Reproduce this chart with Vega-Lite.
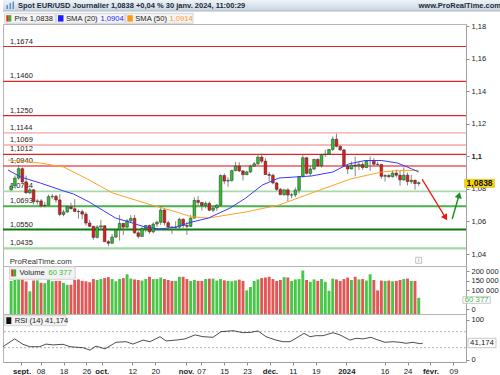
{
  "$schema": "https://vega.github.io/schema/vega-lite/v6.json",
  "padding": 0,
  "background": "white",
  "spacing": 0,
  "bounds": "flush",
  "config": {
    "font": "Liberation Sans",
    "view": {"stroke": "#b4b4b4"},
    "axis": {"labelFont": "Liberation Sans", "labelFontSize": 7.5, "labelColor": "#222222", "tickColor": "#8a8a8a", "domainColor": "#a0a0a0", "tickSize": 3, "labelPadding": 2, "grid": false, "labelOverlap": false, "labelBound": false}
  },
  "datasets": {
    "ohlc": [
      {"i":-4,"o":1.0795,"h":1.0834,"l":1.0787,"c":1.0818,"v":150000},
      {"i":-3,"o":1.0818,"h":1.0882,"l":1.0807,"c":1.0866,"v":155000},
      {"i":-2,"o":1.0866,"h":1.0945,"l":1.0855,"c":1.0924,"v":158000},
      {"i":-1,"o":1.0924,"h":1.0932,"l":1.0834,"c":1.0843,"v":158000},
      {"i":0,"o":1.0843,"h":1.0882,"l":1.0771,"c":1.0776,"v":147000},
      {"i":1,"o":1.0776,"h":1.0808,"l":1.0768,"c":1.0794,"v":95000},
      {"i":2,"o":1.0794,"h":1.0799,"l":1.0705,"c":1.0722,"v":152000},
      {"i":3,"o":1.0722,"h":1.0737,"l":1.0703,"c":1.0726,"v":153000},
      {"i":4,"o":1.0726,"h":1.0737,"l":1.0686,"c":1.0697,"v":140000},
      {"i":5,"o":1.0697,"h":1.0719,"l":1.0687,"c":1.0700,"v":138000},
      {"i":6,"o":1.0700,"h":1.0765,"l":1.0699,"c":1.0752,"v":158000},
      {"i":7,"o":1.0752,"h":1.0768,"l":1.0739,"c":1.0754,"v":148000},
      {"i":8,"o":1.0754,"h":1.0764,"l":1.0716,"c":1.0732,"v":150000},
      {"i":9,"o":1.0732,"h":1.0767,"l":1.0632,"c":1.0643,"v":150000},
      {"i":10,"o":1.0643,"h":1.0672,"l":1.0632,"c":1.0658,"v":140000},
      {"i":11,"o":1.0658,"h":1.0699,"l":1.0653,"c":1.0690,"v":130000},
      {"i":12,"o":1.0690,"h":1.0715,"l":1.0675,"c":1.0678,"v":130000},
      {"i":13,"o":1.0678,"h":1.0737,"l":1.0660,"c":1.0661,"v":155000},
      {"i":14,"o":1.0661,"h":1.0673,"l":1.0617,"c":1.0660,"v":158000},
      {"i":15,"o":1.0660,"h":1.0673,"l":1.0614,"c":1.0645,"v":150000},
      {"i":16,"o":1.0645,"h":1.0658,"l":1.0573,"c":1.0590,"v":148000},
      {"i":17,"o":1.0590,"h":1.0608,"l":1.0565,"c":1.0570,"v":143000},
      {"i":18,"o":1.0570,"h":1.0573,"l":1.0488,"c":1.0502,"v":160000},
      {"i":19,"o":1.0502,"h":1.0578,"l":1.0496,"c":1.0566,"v":155000},
      {"i":20,"o":1.0566,"h":1.0609,"l":1.0546,"c":1.0573,"v":160000},
      {"i":21,"o":1.0573,"h":1.0577,"l":1.0475,"c":1.0476,"v":165000},
      {"i":22,"o":1.0476,"h":1.0486,"l":1.0448,"c":1.0466,"v":170000},
      {"i":23,"o":1.0466,"h":1.0523,"l":1.0463,"c":1.0504,"v":160000},
      {"i":24,"o":1.0504,"h":1.0553,"l":1.0499,"c":1.0549,"v":148000},
      {"i":25,"o":1.0549,"h":1.0640,"l":1.0482,"c":1.0588,"v":160000},
      {"i":26,"o":1.0588,"h":1.0591,"l":1.0516,"c":1.0565,"v":165000},
      {"i":27,"o":1.0565,"h":1.0615,"l":1.0557,"c":1.0604,"v":185000},
      {"i":28,"o":1.0604,"h":1.0639,"l":1.0591,"c":1.0619,"v":163000},
      {"i":29,"o":1.0619,"h":1.0640,"l":1.0525,"c":1.0530,"v":158000},
      {"i":30,"o":1.0530,"h":1.0540,"l":1.0495,"c":1.0508,"v":155000},
      {"i":31,"o":1.0508,"h":1.0565,"l":1.0505,"c":1.0557,"v":152000},
      {"i":32,"o":1.0557,"h":1.0578,"l":1.0533,"c":1.0575,"v":160000},
      {"i":33,"o":1.0575,"h":1.0580,"l":1.0524,"c":1.0536,"v":172000},
      {"i":34,"o":1.0536,"h":1.0594,"l":1.0527,"c":1.0584,"v":160000},
      {"i":35,"o":1.0584,"h":1.0605,"l":1.0565,"c":1.0595,"v":160000},
      {"i":36,"o":1.0595,"h":1.0695,"l":1.0578,"c":1.0670,"v":168000},
      {"i":37,"o":1.0670,"h":1.0677,"l":1.0576,"c":1.0592,"v":160000},
      {"i":38,"o":1.0592,"h":1.0605,"l":1.0554,"c":1.0566,"v":155000},
      {"i":39,"o":1.0566,"h":1.0570,"l":1.0523,"c":1.0563,"v":150000},
      {"i":40,"o":1.0563,"h":1.0601,"l":1.0549,"c":1.0565,"v":150000},
      {"i":41,"o":1.0565,"h":1.0623,"l":1.0555,"c":1.0613,"v":172000},
      {"i":42,"o":1.0613,"h":1.0621,"l":1.0560,"c":1.0575,"v":172000},
      {"i":43,"o":1.0575,"h":1.0598,"l":1.0517,"c":1.0570,"v":160000},
      {"i":44,"o":1.0570,"h":1.0640,"l":1.0565,"c":1.0620,"v":150000},
      {"i":45,"o":1.0620,"h":1.0748,"l":1.0618,"c":1.0729,"v":155000},
      {"i":46,"o":1.0729,"h":1.0756,"l":1.0697,"c":1.0717,"v":150000},
      {"i":47,"o":1.0717,"h":1.0718,"l":1.0667,"c":1.0698,"v":150000},
      {"i":48,"o":1.0698,"h":1.0724,"l":1.0680,"c":1.0711,"v":160000},
      {"i":49,"o":1.0711,"h":1.0722,"l":1.0663,"c":1.0669,"v":162000},
      {"i":50,"o":1.0669,"h":1.0697,"l":1.0656,"c":1.0683,"v":162000},
      {"i":51,"o":1.0683,"h":1.0706,"l":1.0665,"c":1.0700,"v":152000},
      {"i":52,"o":1.0700,"h":1.0888,"l":1.0694,"c":1.0882,"v":160000},
      {"i":53,"o":1.0882,"h":1.0895,"l":1.0828,"c":1.0848,"v":153000},
      {"i":54,"o":1.0848,"h":1.0871,"l":1.0813,"c":1.0852,"v":150000},
      {"i":55,"o":1.0852,"h":1.0917,"l":1.0844,"c":1.0912,"v":148000},
      {"i":56,"o":1.0912,"h":1.0965,"l":1.0908,"c":1.0940,"v":152000},
      {"i":57,"o":1.0940,"h":1.0964,"l":1.0903,"c":1.0910,"v":157000},
      {"i":58,"o":1.0910,"h":1.0916,"l":1.0852,"c":1.0887,"v":150000},
      {"i":59,"o":1.0887,"h":1.0912,"l":1.0884,"c":1.0904,"v":100000},
      {"i":60,"o":1.0904,"h":1.0948,"l":1.0898,"c":1.0940,"v":118000},
      {"i":61,"o":1.0940,"h":1.0965,"l":1.0934,"c":1.0954,"v":150000},
      {"i":62,"o":1.0954,"h":1.1009,"l":1.0944,"c":1.0995,"v":158000},
      {"i":63,"o":1.0995,"h":1.1017,"l":1.0958,"c":1.0970,"v":165000},
      {"i":64,"o":1.0970,"h":1.0989,"l":1.0885,"c":1.0888,"v":168000},
      {"i":65,"o":1.0888,"h":1.0904,"l":1.0846,"c":1.0883,"v":172000},
      {"i":66,"o":1.0883,"h":1.0894,"l":1.0828,"c":1.0836,"v":160000},
      {"i":67,"o":1.0836,"h":1.0843,"l":1.0787,"c":1.0797,"v":150000},
      {"i":68,"o":1.0797,"h":1.0806,"l":1.0764,"c":1.0764,"v":155000},
      {"i":69,"o":1.0764,"h":1.0798,"l":1.0758,"c":1.0794,"v":170000},
      {"i":70,"o":1.0794,"h":1.0804,"l":1.0723,"c":1.0762,"v":168000},
      {"i":71,"o":1.0762,"h":1.0775,"l":1.0742,"c":1.0763,"v":150000},
      {"i":72,"o":1.0763,"h":1.0808,"l":1.0749,"c":1.0792,"v":158000},
      {"i":73,"o":1.0792,"h":1.0880,"l":1.0772,"c":1.0876,"v":160000},
      {"i":74,"o":1.0876,"h":1.1009,"l":1.0869,"c":1.0991,"v":205000},
      {"i":75,"o":1.0991,"h":1.0996,"l":1.0888,"c":1.0895,"v":155000},
      {"i":76,"o":1.0895,"h":1.0940,"l":1.0879,"c":1.0922,"v":145000},
      {"i":77,"o":1.0922,"h":1.0984,"l":1.0915,"c":1.0981,"v":158000},
      {"i":78,"o":1.0981,"h":1.0988,"l":1.0937,"c":1.0942,"v":150000},
      {"i":79,"o":1.0942,"h":1.1013,"l":1.0930,"c":1.1011,"v":160000},
      {"i":80,"o":1.1011,"h":1.1040,"l":1.0996,"c":1.1013,"v":145000},
      {"i":81,"o":1.1013,"h":1.1045,"l":1.1008,"c":1.1042,"v":98000},
      {"i":82,"o":1.1042,"h":1.1122,"l":1.1032,"c":1.1105,"v":162000},
      {"i":83,"o":1.1105,"h":1.1139,"l":1.1055,"c":1.1061,"v":158000},
      {"i":84,"o":1.1061,"h":1.1067,"l":1.1035,"c":1.1039,"v":150000},
      {"i":85,"o":1.1039,"h":1.1046,"l":1.0940,"c":1.0941,"v":160000},
      {"i":86,"o":1.0941,"h":1.0951,"l":1.0892,"c":1.0922,"v":168000},
      {"i":87,"o":1.0922,"h":1.0968,"l":1.0920,"c":1.0946,"v":155000},
      {"i":88,"o":1.0946,"h":1.0998,"l":1.0877,"c":1.0940,"v":172000},
      {"i":89,"o":1.0940,"h":1.0969,"l":1.0915,"c":1.0950,"v":158000},
      {"i":90,"o":1.0950,"h":1.0963,"l":1.0917,"c":1.0931,"v":160000},
      {"i":91,"o":1.0931,"h":1.0976,"l":1.0927,"c":1.0973,"v":152000},
      {"i":92,"o":1.0973,"h":1.0999,"l":1.0911,"c":1.0974,"v":185000},
      {"i":93,"o":1.0974,"h":1.0988,"l":1.0942,"c":1.0951,"v":155000},
      {"i":94,"o":1.0951,"h":1.0966,"l":1.0942,"c":1.0950,"v":100000},
      {"i":95,"o":1.0950,"h":1.0952,"l":1.0862,"c":1.0877,"v":152000},
      {"i":96,"o":1.0877,"h":1.0891,"l":1.0844,"c":1.0882,"v":150000},
      {"i":97,"o":1.0882,"h":1.0892,"l":1.0866,"c":1.0875,"v":152000},
      {"i":98,"o":1.0875,"h":1.0914,"l":1.0869,"c":1.0897,"v":148000},
      {"i":99,"o":1.0897,"h":1.0918,"l":1.0870,"c":1.0884,"v":150000},
      {"i":100,"o":1.0884,"h":1.0913,"l":1.0820,"c":1.0855,"v":155000},
      {"i":101,"o":1.0855,"h":1.0932,"l":1.0850,"c":1.0884,"v":160000},
      {"i":102,"o":1.0884,"h":1.0900,"l":1.0821,"c":1.0845,"v":162000},
      {"i":103,"o":1.0845,"h":1.0886,"l":1.0832,"c":1.0853,"v":150000},
      {"i":104,"o":1.0853,"h":1.0857,"l":1.0795,"c":1.0833,"v":150000},
      {"i":105,"o":1.0833,"h":1.0846,"l":1.0818,"c":1.0838,"v":60377}
    ],
    "sma20": [
      {"i":-4.84,"s":1.09158},{"i":-1.44,"s":1.08728},{"i":3.79,"s":1.0836},{"i":10.07,"s":1.07869},
      {"i":12.69,"s":1.07684},{"i":16.88,"s":1.07193},{"i":19.49,"s":1.06825},{"i":23.94,"s":1.06211},
      {"i":28.39,"s":1.05904},{"i":31.79,"s":1.05658},{"i":35.71,"s":1.05535},{"i":40.16,"s":1.05658},
      {"i":44.35,"s":1.05965},{"i":48.8,"s":1.06211},{"i":54.55,"s":1.06825},{"i":58.74,"s":1.07439},
      {"i":63.19,"s":1.08237},{"i":67.64,"s":1.08667},{"i":71.82,"s":1.08728},{"i":76.27,"s":1.0879},
      {"i":82.03,"s":1.09035},{"i":86.21,"s":1.09526},{"i":90.66,"s":1.09741},{"i":95.11,"s":1.09741},
      {"i":99.29,"s":1.09588},{"i":101.91,"s":1.09342},{"i":105,"s":1.0904}
    ],
    "sma50": [
      {"i":-4.84,"s":1.09772},{"i":3.79,"s":1.09588},{"i":10.07,"s":1.09342},{"i":16.88,"s":1.08544},
      {"i":23.15,"s":1.07746},{"i":31.79,"s":1.07132},{"i":40.16,"s":1.06579},{"i":44.35,"s":1.06272},
      {"i":48.8,"s":1.06211},{"i":58.74,"s":1.06579},{"i":67.64,"s":1.07009},{"i":77.84,"s":1.07868},
      {"i":86.74,"s":1.08605},{"i":95.11,"s":1.09035},{"i":99.82,"s":1.09127},{"i":105,"s":1.0914}
    ],
    "rsi": [
      {"i":-4.84,"r":32.5},{"i":-1.78,"r":52},{"i":0.39,"r":38.5},{"i":2.15,"r":32.5},{"i":4.76,"r":32.5},
      {"i":6.41,"r":39},{"i":8.24,"r":37},{"i":10.86,"r":38.5},{"i":12.69,"r":32.5},{"i":16.09,"r":30},
      {"i":17.92,"r":24},{"i":19.49,"r":34},{"i":21.85,"r":27},{"i":24.72,"r":43.5},{"i":27.34,"r":45},
      {"i":29.17,"r":39},{"i":31.79,"r":49},{"i":33.62,"r":45},{"i":36.24,"r":57.5},{"i":37.81,"r":47},
      {"i":40.42,"r":49},{"i":42.78,"r":52},{"i":45.4,"r":62},{"i":47.49,"r":57.5},{"i":50.1,"r":56},
      {"i":52.2,"r":70},{"i":55.33,"r":72.5},{"i":57.95,"r":67.5},{"i":60.04,"r":68.5},{"i":61.87,"r":72},
      {"i":63.97,"r":57.5},{"i":66.59,"r":49},{"i":68.42,"r":45},{"i":70.25,"r":45},{"i":71.82,"r":53.5},
      {"i":73.91,"r":66},{"i":75.48,"r":57.5},{"i":77.05,"r":60},{"i":78.88,"r":60},{"i":81.5,"r":67.5},
      {"i":83.33,"r":62},{"i":85.94,"r":49},{"i":87.51,"r":53.5},{"i":89.35,"r":52},{"i":91.44,"r":56},
      {"i":92.75,"r":51},{"i":95.11,"r":43.5},{"i":97.2,"r":45},{"i":99.03,"r":43.5},{"i":100.6,"r":41},
      {"i":102.43,"r":43.5},{"i":104.26,"r":40},{"i":105,"r":41.174}
    ],
    "levels": [
      {"level":1.1674,"label":"1,1674","kind":"rouge"},
      {"level":1.1460,"label":"1,1460","kind":"rouge"},
      {"level":1.1250,"label":"1,1250","kind":"rouge"},
      {"level":1.1144,"label":"1,1144","kind":"rose"},
      {"level":1.1069,"label":"1,1069","kind":"rose"},
      {"level":1.1012,"label":"1,1012","kind":"rouge"},
      {"level":1.0940,"label":"1,0940","kind":"rouge2"},
      {"level":1.0784,"label":"1,0784","kind":"vertclair"},
      {"level":1.0693,"label":"1,0693","kind":"vert"},
      {"level":1.0550,"label":"1,0550","kind":"vertfonce"},
      {"level":1.0435,"label":"1,0435","kind":"vertclair2"}
    ]
  },
  "vconcat": [
    {
      "width": 500,
      "height": 24,
      "view": {"stroke": null},
      "data": {"values": [{}]},
      "layer": [
        {"mark": {"type": "rect", "color": {"gradient": "linear", "x1": 0, "y1": 0, "x2": 0, "y2": 1, "stops": [{"offset": 0, "color": "#eef3f8"}, {"offset": 1, "color": "#c8d5e0"}]}},
         "encoding": {"x": {"datum": 0, "type": "quantitative", "scale": {"domain": [0, 500], "nice": false, "zero": false}, "axis": null}, "x2": {"datum": 500},
                      "y": {"datum": 0, "type": "quantitative", "scale": {"domain": [0, 24], "reverse": true, "nice": false, "zero": false}, "axis": null}, "y2": {"datum": 11}}},
        {"mark": {"type": "rule", "color": "#a9b7c4", "strokeWidth": 1},
         "encoding": {"x": {"datum": 0, "type": "quantitative", "axis": null}, "x2": {"datum": 500}, "y": {"datum": 11, "type": "quantitative", "axis": null}}},
        {"mark": {"type": "rect", "color": "#5b8fd0"},
         "encoding": {"x": {"datum": 3.5, "type": "quantitative", "axis": null}, "x2": {"datum": 5}, "y": {"datum": 5, "type": "quantitative", "axis": null}, "y2": {"datum": 9}}},
        {"mark": {"type": "rect", "color": "#5b8fd0"},
         "encoding": {"x": {"datum": 6.5, "type": "quantitative", "axis": null}, "x2": {"datum": 8}, "y": {"datum": 3, "type": "quantitative", "axis": null}, "y2": {"datum": 9}}},
        {"mark": {"type": "rect", "color": "#5b8fd0"},
         "encoding": {"x": {"datum": 9.5, "type": "quantitative", "axis": null}, "x2": {"datum": 11}, "y": {"datum": 1.5, "type": "quantitative", "axis": null}, "y2": {"datum": 9}}},
        {"mark": {"type": "text", "align": "left", "baseline": "middle", "fontWeight": "bold", "fontSize": 7.5, "color": "#1c2a38"},
         "encoding": {"x": {"datum": 15, "type": "quantitative", "axis": null}, "y": {"datum": 5.8, "type": "quantitative", "axis": null}, "text": {"value": "Spot EUR/USD Journalier 1,0838 +0,04 % 30 janv. 2024, 11:00:29"}}},
        {"mark": {"type": "text", "align": "right", "baseline": "middle", "fontWeight": "bold", "fontSize": 7.5, "color": "#1c2a38"},
         "encoding": {"x": {"datum": 498, "type": "quantitative", "axis": null}, "y": {"datum": 5.8, "type": "quantitative", "axis": null}, "text": {"value": "www.ProRealTime.com"}}},
        {"mark": {"type": "rect", "fill": "#f4f4f4", "stroke": "#c9c9c9", "strokeWidth": 0.8},
         "encoding": {"x": {"datum": 1.7, "type": "quantitative", "axis": null}, "x2": {"datum": 52.3}, "y": {"datum": 13.3, "type": "quantitative", "axis": null}, "y2": {"datum": 23.3}}},
        {"mark": {"type": "rect", "fill": "#f4f4f4", "stroke": "#c9c9c9", "strokeWidth": 0.8},
         "encoding": {"x": {"datum": 53.3, "type": "quantitative", "axis": null}, "x2": {"datum": 121.7}, "y": {"datum": 13.3, "type": "quantitative", "axis": null}, "y2": {"datum": 23.3}}},
        {"mark": {"type": "rect", "fill": "#f4f4f4", "stroke": "#c9c9c9", "strokeWidth": 0.8},
         "encoding": {"x": {"datum": 122.7, "type": "quantitative", "axis": null}, "x2": {"datum": 190}, "y": {"datum": 13.3, "type": "quantitative", "axis": null}, "y2": {"datum": 23.3}}},
        {"mark": {"type": "rect", "color": "#e0301e"},
         "encoding": {"x": {"datum": 3.3, "type": "quantitative", "axis": null}, "x2": {"datum": 5.8}, "y": {"datum": 15.2, "type": "quantitative", "axis": null}, "y2": {"datum": 21.6}}},
        {"mark": {"type": "rect", "color": "#2db82d"},
         "encoding": {"x": {"datum": 5.8, "type": "quantitative", "axis": null}, "x2": {"datum": 8.3}, "y": {"datum": 15.2, "type": "quantitative", "axis": null}, "y2": {"datum": 21.6}}},
        {"mark": {"type": "rect", "color": "#1f1fff"},
         "encoding": {"x": {"datum": 55, "type": "quantitative", "axis": null}, "x2": {"datum": 60.5}, "y": {"datum": 15.2, "type": "quantitative", "axis": null}, "y2": {"datum": 21.6}}},
        {"mark": {"type": "rect", "color": "#ff9a1a"},
         "encoding": {"x": {"datum": 124.3, "type": "quantitative", "axis": null}, "x2": {"datum": 129.8}, "y": {"datum": 15.2, "type": "quantitative", "axis": null}, "y2": {"datum": 21.6}}},
        {"mark": {"type": "text", "align": "left", "baseline": "middle", "fontSize": 7.6, "color": "#222222"},
         "encoding": {"x": {"datum": 11.5, "type": "quantitative", "axis": null}, "y": {"datum": 18.5, "type": "quantitative", "axis": null}, "text": {"value": "Prix 1,0838"}}},
        {"mark": {"type": "text", "align": "left", "baseline": "middle", "fontSize": 7.6, "color": "#222222"},
         "encoding": {"x": {"datum": 63, "type": "quantitative", "axis": null}, "y": {"datum": 18.5, "type": "quantitative", "axis": null}, "text": {"value": "SMA (20)"}}},
        {"mark": {"type": "text", "align": "left", "baseline": "middle", "fontSize": 7.6, "color": "#1f1fff"},
         "encoding": {"x": {"datum": 97.5, "type": "quantitative", "axis": null}, "y": {"datum": 18.5, "type": "quantitative", "axis": null}, "text": {"value": "1,0904"}}},
        {"mark": {"type": "text", "align": "left", "baseline": "middle", "fontSize": 7.6, "color": "#222222"},
         "encoding": {"x": {"datum": 132.3, "type": "quantitative", "axis": null}, "y": {"datum": 18.5, "type": "quantitative", "axis": null}, "text": {"value": "SMA (50)"}}},
        {"mark": {"type": "text", "align": "left", "baseline": "middle", "fontSize": 7.6, "color": "#ff9a1a"},
         "encoding": {"x": {"datum": 166.5, "type": "quantitative", "axis": null}, "y": {"datum": 18.5, "type": "quantitative", "axis": null}, "text": {"value": "1,0914"}}}
      ]
    },
    {
      "width": 463,
      "height": 242,
      "resolve": {"axis": {"x": "independent", "y": "independent"}},
      "layer": [
        {"data": {"name": "levels"},
         "mark": {"type": "rule"},
         "encoding": {
           "y": {"field": "level", "type": "quantitative", "scale": {"domain": [1.03264, 1.18123], "nice": false, "zero": false},
                 "axis": {"orient": "right", "title": null, "values": [1.04, 1.06, 1.08, 1.1, 1.12, 1.14, 1.16, 1.18], "labelOverlap": false,
                          "labelExpr": "replace(format(datum.value, '.2~f'), '.', ',')",
                          "labelFontWeight": {"condition": {"test": "abs(datum.value - 1.1) < 0.0001", "value": "bold"}, "value": "normal"}}},
           "color": {"field": "kind", "type": "nominal", "legend": null,
                     "scale": {"domain": ["rouge", "rose", "rouge2", "vertclair", "vert", "vertfonce", "vertclair2"],
                               "range": ["#e02424", "#f3a4a4", "#e85a5a", "#a9dba9", "#4dae4d", "#0b7d0b", "#a3d7a3"]}},
           "strokeWidth": {"field": "kind", "type": "nominal", "legend": null,
                           "scale": {"domain": ["rouge", "rose", "rouge2", "vertclair", "vert", "vertfonce", "vertclair2"],
                                     "range": [1.2, 2.2, 1.3, 2.6, 1.2, 2.2, 1.8]}}
         }},
        {"data": {"name": "levels"},
         "mark": {"type": "text", "align": "left", "baseline": "bottom", "dy": -1, "fontSize": 7.5, "color": "#222222"},
         "encoding": {
           "x": {"datum": -4.32, "type": "quantitative", "scale": {"domain": [-4.84, 116.3], "nice": false, "zero": false}, "axis": null},
           "y": {"field": "level", "type": "quantitative", "axis": null},
           "text": {"field": "label"}
         }},
        {"data": {"name": "ohlc"},
         "mark": {"type": "rule", "color": "#6a6a6a", "strokeWidth": 0.8},
         "encoding": {
           "x": {"field": "i", "type": "quantitative", "scale": {"domain": [-4.84, 116.3], "nice": false, "zero": false}, "axis": null},
           "y": {"field": "l", "type": "quantitative", "axis": null},
           "y2": {"field": "h"}
         }},
        {"data": {"name": "ohlc"},
         "mark": {"type": "bar", "width": 2.7, "stroke": "#2a2a2a", "strokeWidth": 0.5},
         "encoding": {
           "x": {"field": "i", "type": "quantitative", "axis": null},
           "y": {"field": "o", "type": "quantitative", "axis": null},
           "y2": {"field": "c"},
           "color": {"condition": {"test": "datum.c >= datum.o", "value": "#2ec22e"}, "value": "#e21b1b"}
         }},
        {"data": {"name": "sma50"},
         "mark": {"type": "line", "color": "#ffa126", "strokeWidth": 1},
         "encoding": {
           "x": {"field": "i", "type": "quantitative", "axis": null},
           "y": {"field": "s", "type": "quantitative", "axis": null}
         }},
        {"data": {"name": "sma20"},
         "mark": {"type": "line", "color": "#3a3aff", "strokeWidth": 1},
         "encoding": {
           "x": {"field": "i", "type": "quantitative", "axis": null},
           "y": {"field": "s", "type": "quantitative", "axis": null}
         }},
        {"data": {"values": [{}]},
         "mark": {"type": "rule", "color": "#e8170f", "strokeWidth": 1.4},
         "encoding": {
           "x": {"datum": 105.91, "type": "quantitative", "axis": null}, "x2": {"datum": 111.96},
           "y": {"datum": 1.0859, "type": "quantitative", "axis": null}, "y2": {"datum": 1.06303}
         }},
        {"data": {"values": [{}]},
         "mark": {"type": "point", "shape": "triangle-up", "angle": 148, "size": 50, "filled": true, "opacity": 1, "color": "#e8170f"},
         "encoding": {
           "x": {"datum": 112.17, "type": "quantitative", "axis": null},
           "y": {"datum": 1.06229, "type": "quantitative", "axis": null}
         }},
        {"data": {"values": [{}]},
         "mark": {"type": "rule", "color": "#1a8f1a", "strokeWidth": 1.4},
         "encoding": {
           "x": {"datum": 113.95, "type": "quantitative", "axis": null}, "x2": {"datum": 115.67},
           "y": {"datum": 1.06149, "type": "quantitative", "axis": null}, "y2": {"datum": 1.07531}
         }},
        {"data": {"values": [{}]},
         "mark": {"type": "point", "shape": "triangle-up", "angle": 16, "size": 50, "filled": true, "opacity": 1, "color": "#1a8f1a"},
         "encoding": {
           "x": {"datum": 115.78, "type": "quantitative", "axis": null},
           "y": {"datum": 1.07617, "type": "quantitative", "axis": null}
         }},
        {"data": {"values": [{}]},
         "mark": {"type": "rect", "color": "#ffd700", "stroke": "#c8a800", "strokeWidth": 0.5},
         "encoding": {
           "x": {"datum": 117.27, "type": "quantitative", "axis": null}, "x2": {"datum": 125.27},
           "y": {"datum": 1.08587, "type": "quantitative", "axis": null}, "y2": {"datum": 1.08096}
         }},
        {"data": {"values": [{}]},
         "mark": {"type": "text", "align": "center", "baseline": "middle", "fontWeight": "bold", "fontSize": 8.5, "color": "#111111"},
         "encoding": {
           "x": {"datum": 121.27, "type": "quantitative", "axis": null},
           "y": {"datum": 1.08341, "type": "quantitative", "axis": null},
           "text": {"value": "1,0838"}
         }},
        {"data": {"values": [{}]},
         "mark": {"type": "text", "align": "left", "baseline": "middle", "fontSize": 7.8, "color": "#333333"},
         "encoding": {
           "x": {"datum": -4.4, "type": "quantitative", "axis": null},
           "y": {"datum": 1.03528, "type": "quantitative", "axis": null},
           "text": {"value": "ProRealTime.com"}
         }},
        {"data": {"values": [{}]},
         "mark": {"type": "rect", "fill": "#ffffff", "stroke": "#a8a8a8", "strokeWidth": 0.7},
         "encoding": {
           "x": {"datum": 104.19, "type": "quantitative", "axis": null}, "x2": {"datum": 105.76},
           "y": {"datum": 1.03798, "type": "quantitative", "axis": null}, "y2": {"datum": 1.0343}
         }},
        {"data": {"values": [{}]},
         "mark": {"type": "text", "align": "center", "baseline": "middle", "fontSize": 5.5, "color": "#777777"},
         "encoding": {
           "x": {"datum": 104.97, "type": "quantitative", "axis": null},
           "y": {"datum": 1.03614, "type": "quantitative", "axis": null},
           "text": {"value": "i"}
         }}
      ]
    },
    {
      "width": 463,
      "height": 48,
      "resolve": {"axis": {"x": "independent", "y": "independent"}},
      "layer": [
        {"data": {"name": "ohlc"},
         "mark": {"type": "bar", "width": 2.9},
         "encoding": {
           "x": {"field": "i", "type": "quantitative", "scale": {"domain": [-4.84, 116.3], "nice": false, "zero": false}, "axis": null},
           "y": {"field": "v", "type": "quantitative", "scale": {"domain": [-25000, 229000], "nice": false, "zero": false},
                 "axis": {"orient": "right", "title": null, "values": [0, 100000, 150000, 200000], "labelOverlap": false,
                          "labelExpr": "datum.value == 0 ? '0' : format(datum.value / 1000, 'd') + ' 000'"}},
           "y2": {"datum": -25000},
           "color": {"condition": {"test": "datum.c >= datum.o", "value": "#47c647"}, "value": "#e25656"}
         }},
        {"data": {"values": [{}]},
         "mark": {"type": "rect", "fill": "#f2f2f2", "stroke": "#c9c9c9", "strokeWidth": 0.8},
         "encoding": {
           "x": {"datum": -4.4, "type": "quantitative", "axis": null}, "x2": {"datum": 13.13},
           "y": {"datum": 225300, "type": "quantitative", "axis": null}, "y2": {"datum": 158600}
         }},
        {"data": {"values": [{}]},
         "mark": {"type": "rect", "color": "#e0301e"},
         "encoding": {
           "x": {"datum": -3.98, "type": "quantitative", "axis": null}, "x2": {"datum": -3.32},
           "y": {"datum": 211000, "type": "quantitative", "axis": null}, "y2": {"datum": 174000}
         }},
        {"data": {"values": [{}]},
         "mark": {"type": "rect", "color": "#2db82d"},
         "encoding": {
           "x": {"datum": -3.32, "type": "quantitative", "axis": null}, "x2": {"datum": -2.67},
           "y": {"datum": 211000, "type": "quantitative", "axis": null}, "y2": {"datum": 174000}
         }},
        {"data": {"values": [{}]},
         "mark": {"type": "text", "align": "left", "baseline": "middle", "fontSize": 7.6, "color": "#222222"},
         "encoding": {
           "x": {"datum": -1.78, "type": "quantitative", "axis": null},
           "y": {"datum": 191500, "type": "quantitative", "axis": null},
           "text": {"value": "Volume"}
         }},
        {"data": {"values": [{}]},
         "mark": {"type": "text", "align": "left", "baseline": "middle", "fontSize": 7.6, "color": "#3db83d"},
         "encoding": {
           "x": {"datum": 6.0, "type": "quantitative", "axis": null},
           "y": {"datum": 191500, "type": "quantitative", "axis": null},
           "text": {"value": "60 377"}
         }},
        {"data": {"values": [{}]},
         "mark": {"type": "rect", "fill": "#ffffff", "stroke": "#b0b0b0", "strokeWidth": 0.7},
         "encoding": {
           "x": {"datum": 116.82, "type": "quantitative", "axis": null}, "x2": {"datum": 124.15},
           "y": {"datum": 66500, "type": "quantitative", "axis": null}, "y2": {"datum": 31600}
         }},
        {"data": {"values": [{}]},
         "mark": {"type": "text", "align": "center", "baseline": "middle", "fontSize": 7.8, "color": "#3db83d"},
         "encoding": {
           "x": {"datum": 120.49, "type": "quantitative", "axis": null},
           "y": {"datum": 49000, "type": "quantitative", "axis": null},
           "text": {"value": "60 377"}
         }}
      ]
    },
    {
      "width": 463,
      "height": 48,
      "resolve": {"axis": {"x": "independent", "y": "independent"}},
      "layer": [
        {"data": {"values": [{"r": 70}, {"r": 30}]},
         "mark": {"type": "rule", "color": "#9a9a9a", "strokeWidth": 0.8, "strokeDash": [2, 2]},
         "encoding": {
           "y": {"field": "r", "type": "quantitative", "scale": {"domain": [-5.75, 114.25], "nice": false, "zero": false},
                 "axis": {"orient": "right", "title": null, "values": [0, 100], "labelOverlap": false}}
         }},
        {"data": {"name": "rsi"},
         "mark": {"type": "line", "color": "#222222", "strokeWidth": 0.8},
         "encoding": {
           "x": {"field": "i", "type": "quantitative", "scale": {"domain": [-4.84, 116.3], "nice": false, "zero": false},
                 "axis": {"orient": "bottom", "title": null, "values": [0, 5, 11, 17, 21, 29, 35, 43, 47, 53, 59, 65, 71, 77, 85, 95, 101, 107, 113],
                          "labelExpr": "['sept.','08','18','26','oct.','12','20','nov.','07','15','23','déc.','11','19','2024','16','24','févr.','09'][indexof([0,5,11,17,21,29,35,43,47,53,59,65,71,77,85,95,101,107,113], datum.value)]",
                          "labelFontWeight": {"condition": {"test": "indexof([0,21,43,65,85,107], datum.value) >= 0", "value": "bold"}, "value": "normal"},
                          "labelOverlap": false, "labelFlush": false, "labelFontSize": 7.8}},
           "y": {"field": "r", "type": "quantitative", "axis": null}
         }},
        {"data": {"values": [{}]},
         "mark": {"type": "rect", "fill": "#f2f2f2", "stroke": "#c9c9c9", "strokeWidth": 0.8},
         "encoding": {
           "x": {"datum": -4.4, "type": "quantitative", "axis": null}, "x2": {"datum": 11.64},
           "y": {"datum": 110, "type": "quantitative", "axis": null}, "y2": {"datum": 85}
         }},
        {"data": {"values": [{}]},
         "mark": {"type": "rect", "color": "#111111"},
         "encoding": {
           "x": {"datum": -3.98, "type": "quantitative", "axis": null}, "x2": {"datum": -2.67},
           "y": {"datum": 106, "type": "quantitative", "axis": null}, "y2": {"datum": 89.5}
         }},
        {"data": {"values": [{}]},
         "mark": {"type": "text", "align": "left", "baseline": "middle", "fontSize": 7.6, "color": "#222222"},
         "encoding": {
           "x": {"datum": -1.78, "type": "quantitative", "axis": null},
           "y": {"datum": 97.5, "type": "quantitative", "axis": null},
           "text": {"value": "RSI (14) 41,174"}
         }},
        {"data": {"values": [{}]},
         "mark": {"type": "rect", "fill": "#ffffff", "stroke": "#b0b0b0", "strokeWidth": 0.7},
         "encoding": {
           "x": {"datum": 116.82, "type": "quantitative", "axis": null}, "x2": {"datum": 124.15},
           "y": {"datum": 53.5, "type": "quantitative", "axis": null}, "y2": {"datum": 30}
         }},
        {"data": {"values": [{}]},
         "mark": {"type": "text", "align": "center", "baseline": "middle", "fontSize": 7.8, "color": "#222222"},
         "encoding": {
           "x": {"datum": 120.49, "type": "quantitative", "axis": null},
           "y": {"datum": 41.5, "type": "quantitative", "axis": null},
           "text": {"value": "41,174"}
         }}
      ]
    }
  ]
}
